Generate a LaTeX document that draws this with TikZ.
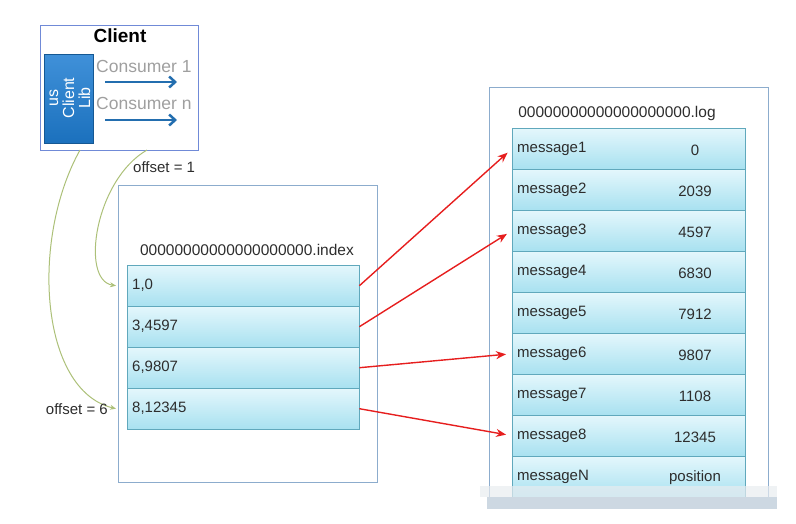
\documentclass[tikz,border=0pt]{standalone}
\usepackage{fontspec}
\setmainfont{Liberation Sans}
\usetikzlibrary{arrows.meta}
\definecolor{rowtop}{RGB}{228,247,252}
\definecolor{rowbot}{RGB}{168,225,240}
\definecolor{rowline}{RGB}{96,168,188}
\definecolor{boxline}{RGB}{140,172,205}
\definecolor{libblue}{RGB}{30,125,210}
\definecolor{consblue}{RGB}{35,110,175}
\definecolor{offsetgreen}{RGB}{172,192,120}
\definecolor{ptrred}{RGB}{230,30,30}
\definecolor{txt}{RGB}{45,45,45}
\definecolor{bandlight}{RGB}{232,236,240}
\definecolor{banddark}{RGB}{205,216,226}

\tikzset{
  filebox/.style={draw=boxline, line width=1pt, anchor=north west, inner sep=0pt},
  rowbox/.style={draw=rowline, top color=rowtop, bottom color=rowbot, anchor=north west,
    minimum height=41pt, inner xsep=5pt, inner ysep=0pt, align=left, text=txt,
    font=\fontsize{15}{17}\selectfont},
  rowval/.style={text=txt, font=\fontsize{15}{17}\selectfont},
  fname/.style={text=txt, font=\fontsize{15.5}{17}\selectfont},
  pointer/.style={ptrred, line width=1.4pt, -{Stealth[length=10pt,width=8pt]}, shorten >=6pt},
  offsetline/.style={offsetgreen, line width=1pt, -{Stealth[length=6pt,width=5pt]}},
  consarrow/.style={consblue, line width=2.5pt, -{Straight Barb[length=6pt,width=11pt]}}
}

\begin{document}
\begin{tikzpicture}[x=1pt, y=-1pt]
  \useasboundingbox (0,0) rectangle (796,523);

  % client
  \node[filebox, draw=boxline!80!blue, minimum width=158pt, minimum height=125pt] (client) at (40,25) {};
  \node[font=\fontsize{19}{21}\selectfont\bfseries, text=black] (clienttitle) at (120,36) {Client};
  \node[anchor=north west, inner sep=0pt, minimum width=49pt, minimum height=89pt,
        top color=libblue!85!white, bottom color=libblue!90!black, draw=libblue!70!black] (lib) at (44,54) {};
  \node[rotate=90, text=white, align=center, font=\fontsize{16}{16}\selectfont] (libtext) at (70,98) {us\\Client\\Lib};
  \node[anchor=west, text=gray!75, font=\fontsize{17.5}{19}\selectfont, inner sep=0pt] (cons1) at (96,66) {Consumer 1};
  \node[anchor=west, text=gray!75, font=\fontsize{17.5}{19}\selectfont, inner sep=0pt] (consn) at (96,103) {Consumer n};
  \coordinate (c1a) at (105,82);  \coordinate (c1b) at (177,82);
  \coordinate (cna) at (105,120); \coordinate (cnb) at (177,120);
  \draw[consarrow] (c1a) -- (c1b);
  \draw[consarrow] (cna) -- (cnb);

  % index file
  \node[filebox, minimum width=259pt, minimum height=297pt] (idx) at (118,185) {};
  \node[fname] (idxname) at (247,250) {00000000000000000000.index};
  \foreach \e [count=\k] in {{1,0}, {3,4597}, {6,9807}, {8,12345}} {
    \node[rowbox, text width=222pt] (i\k) at (127,{265+41*(\k-1)}) {\e};
  }

  % log file
  \node[filebox, minimum width=279pt, minimum height=418pt] (log) at (489,87) {};
  \node[fname] (logname) at (617,113) {00000000000000000000.log};
  \foreach \m/\p [count=\k] in {1/0, 2/2039, 3/4597, 4/6830, 5/7912, 6/9807, 7/1108, 8/12345, N/position} {
    \node[rowbox, text width=223pt] (m\k) at (512,{128+41*(\k-1)}) {message\m};
    \node[rowval] (p\k) at (695,{150+41*(\k-1)}) {\p};
  }
  \fill[bandlight, opacity=0.7] (480,486) rectangle (777,497);
  \fill[banddark] (487,497) rectangle (777,509);

  % pointers
  \draw[pointer] (i1.east) -- (m1.west);
  \draw[pointer] (i2.east) -- (m3.west);
  \draw[pointer] (i3.east) -- (m6.west);
  \draw[pointer] (i4.east) -- (m8.west);

  % offsets
  \coordinate (o6) at (80,150);
  \coordinate (o1) at (147,150);
  \draw[offsetline] (o6) .. controls (30,240) and (40,390) .. ([xshift=-11pt]i4.west);
  \draw[offsetline] (o1) .. controls (95,180) and (80,280) .. ([xshift=-11pt]i1.west);
  \node[fname, font=\fontsize{15}{17}\selectfont, anchor=west, inner sep=0pt] (off1) at (133,167) {offset = 1};
  \node[fname, font=\fontsize{15}{17}\selectfont, anchor=east, inner sep=0pt] (off6) at (108,409) {offset = 6};
\end{tikzpicture}
\end{document}
